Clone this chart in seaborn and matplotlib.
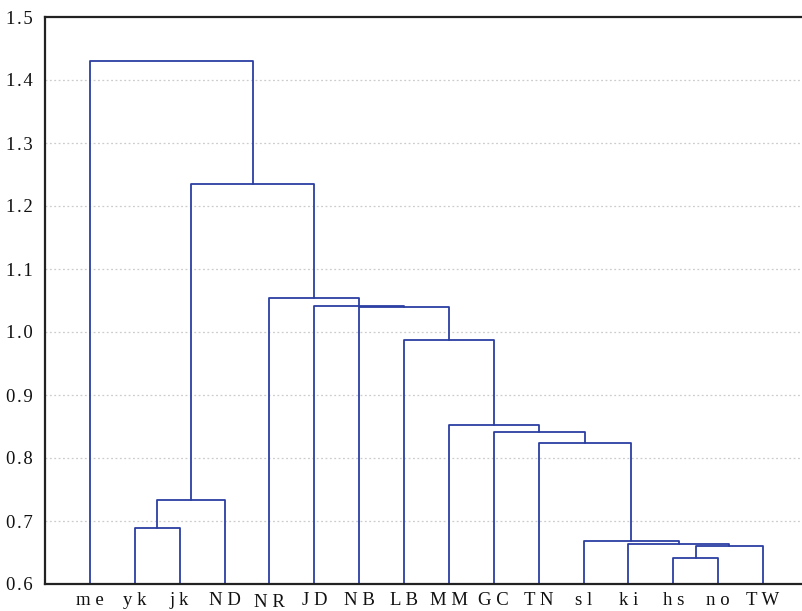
import numpy as np
import pandas as pd
import matplotlib
matplotlib.use("Agg")
import matplotlib.pyplot as plt
import seaborn as sns

# ---- data ----
leaf_labels = ["me", "yk", "jk", "ND", "NR", "JD", "NB", "LB",
               "MM", "GC", "TN", "sl", "ki", "hs", "no", "TW"]
# merges: children ids (<16 are leaves, merge k creates cluster 16+k) and height
merge_left = [13, 16, 12, 11, 10, 9, 8, 7, 6, 5, 4, 1, 27, 28, 0]
merge_right = [14, 15, 17, 18, 19, 20, 21, 22, 23, 24, 25, 2, 3, 26, 29]
merge_height = [0.641, 0.660, 0.663, 0.669, 0.824, 0.841, 0.852, 0.987,
                1.040, 1.042, 1.054, 0.689, 0.733, 1.235, 1.430]
y_ticks = [0.6, 0.7, 0.8, 0.9, 1.0, 1.1, 1.2, 1.3, 1.4, 1.5]
y_tick_labels = ["0.6", "0.7", "0.8", "0.9", "1.0", "1.1", "1.2", "1.3", "1.4", "1.5"]

# ---- build dendrogram segments ----
n = len(leaf_labels)
pos = {i: float(i) for i in range(n)}
hgt = {i: 0.0 for i in range(n)}
rows = []
for k, (l, r, h) in enumerate(zip(merge_left, merge_right, merge_height)):
    xl, xr = pos[l], pos[r]
    pts = [(xl, hgt[l]), (xl, h), (xr, h), (xr, hgt[r])]
    for j, (px, py) in enumerate(pts):
        rows.append({"seg": k, "order": j, "x": px, "y": py})
    pos[n + k] = (xl + xr) / 2
    hgt[n + k] = h
df = pd.DataFrame(rows)

sns.set_theme(style="white")
plt.rcParams["font.family"] = ["Liberation Serif", "DejaVu Serif"]

fig = plt.figure(figsize=(8.02, 6.11), dpi=100)
ax = fig.add_axes([45 / 802, 27 / 611, 763 / 802, 567 / 611])

for y in y_ticks[1:-1]:
    ax.axhline(y, color="#cccccc", lw=0.9, ls=(0, (1.5, 2)), zorder=0)

sns.lineplot(data=df, x="x", y="y", units="seg", estimator=None, sort=False,
             color="#2b3fa3", lw=1.3, ax=ax, legend=False)

ax.set_xlim(-1, n)
ax.set_ylim(0.6, 1.5)
ax.set_xticks(range(n))
ax.set_xticklabels([" ".join(s) for s in leaf_labels], fontsize=13.5)
ax.set_yticks(y_ticks)
ax.set_yticklabels(["\u200a".join(s) for s in y_tick_labels], fontsize=13.5)
ax.set_xlabel("")
ax.set_ylabel("")
ax.tick_params(axis="x", direction="in", length=3, width=1.2, color="black", pad=5.5)
ax.tick_params(axis="y", direction="in", length=0, pad=9)
for t in ax.get_xticklabels() + ax.get_yticklabels():
    t.set_color("#111111")
ax.xaxis.get_major_ticks()[4].set_pad(7.5)

for side in ["left", "top", "bottom"]:
    ax.spines[side].set_color("#222222")
    ax.spines[side].set_linewidth(1.6)
ax.spines["right"].set_visible(False)

fig.savefig("out.png", dpi=100)
